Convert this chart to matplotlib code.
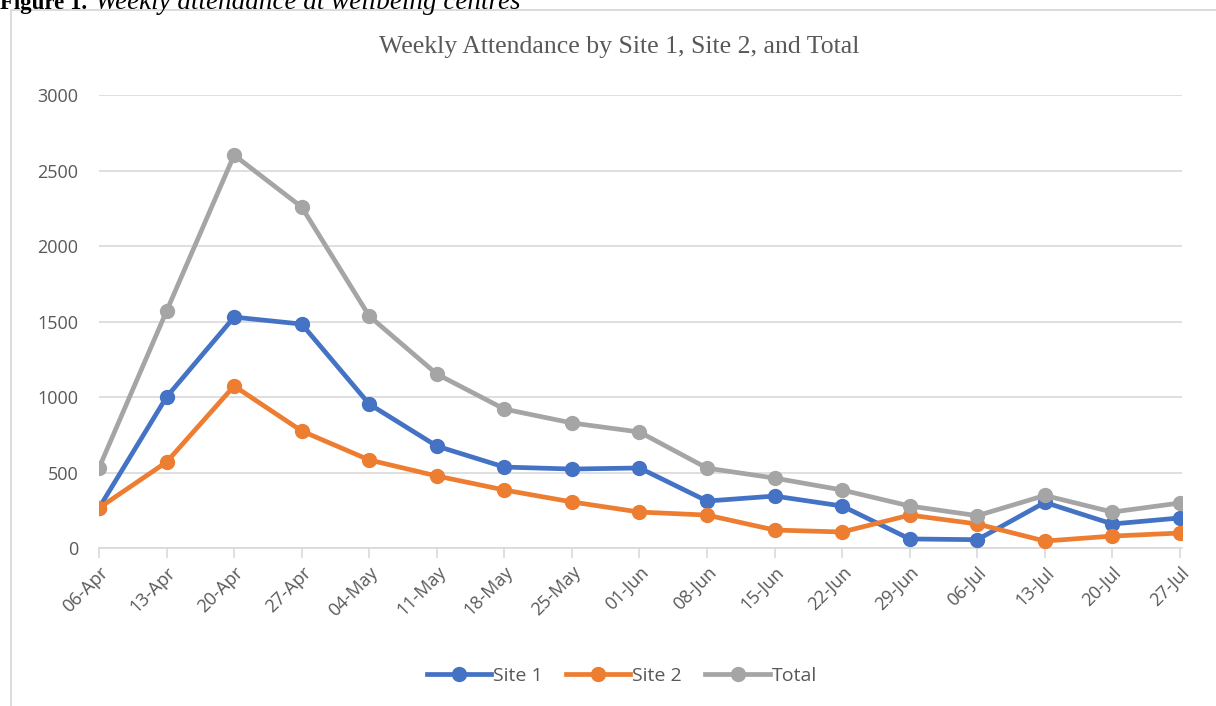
import matplotlib.pyplot as plt
from matplotlib.patches import Rectangle

weeks = ["06-Apr", "13-Apr", "20-Apr", "27-Apr", "04-May", "11-May", "18-May",
         "25-May", "01-Jun", "08-Jun", "15-Jun", "22-Jun", "29-Jun", "06-Jul",
         "13-Jul", "20-Jul", "27-Jul"]
site1 = [265, 1000, 1529, 1483, 953, 675, 536, 523, 530, 311, 344, 278, 60, 55, 302, 159, 199]
site2 = [265, 569, 1073, 775, 583, 477, 384, 305, 238, 218, 119, 106, 218, 159, 46, 79, 99]
total = [530, 1569, 2602, 2258, 1536, 1152, 920, 828, 768, 529, 463, 384, 278, 214, 348, 238, 298]

W, H = 1216, 706
fig = plt.figure(figsize=(W / 100, H / 100), dpi=100)

# chart frame (cut off at the right and bottom)
fig.patches.append(Rectangle((11 / W, -0.1), 1.2, 1 - 10 / H + 0.1,
                             transform=fig.transFigure, fill=False,
                             edgecolor="#D9D9D9", linewidth=1.3))

# caption, partly cut off at the top like the source page
fig.text(0.0, 1 - 9 / H, "Figure 1.", fontfamily="Liberation Serif",
         fontweight="bold", fontsize=16.5, va="baseline", ha="left")
fig.text(95 / W, 1 - 9 / H, "Weekly attendance at wellbeing centres",
         fontfamily="Liberation Serif", fontstyle="italic", fontsize=19.5,
         va="baseline", ha="left")

ax = fig.add_axes([99 / W, 1 - 548 / H, (1182 - 99) / W, (548 - 95) / H])

x = range(len(weeks))
ax.plot(x, site1, color="#4472C4", lw=3.4, marker="o", ms=10, label="Site 1", zorder=3)
ax.plot(x, site2, color="#ED7D31", lw=3.4, marker="o", ms=10, label="Site 2", zorder=3)
ax.plot(x, total, color="#A5A5A5", lw=3.4, marker="o", ms=10, label="Total", zorder=3)

ax.set_xlim(0, len(weeks) - 1 + 0.03)
ax.set_ylim(0, 3000)
ax.set_yticks(range(0, 3001, 500))
ax.yaxis.grid(True, color="#D9D9D9", lw=1.2)
ax.set_axisbelow(True)
for s in ["top", "right", "left"]:
    ax.spines[s].set_visible(False)
ax.spines["bottom"].set_color("#D9D9D9")
ax.spines["bottom"].set_linewidth(1.2)

ax.set_xticks(list(x))
ax.set_xticklabels(weeks, rotation=45, ha="right", rotation_mode="anchor")
ax.tick_params(axis="x", direction="out", length=7, width=1.2, color="#D9D9D9",
               labelsize=13, labelcolor="#595959", pad=4)
ax.tick_params(axis="y", length=0, labelsize=13, labelcolor="#595959", pad=15)
for lab in ax.get_xticklabels() + ax.get_yticklabels():
    lab.set_fontfamily("Open Sans")

fig.text(619 / W, 1 - 47 / H, "Weekly Attendance by Site 1, Site 2, and Total",
         fontfamily="Liberation Serif", fontsize=18.5, color="#595959",
         ha="center", va="center")

leg = fig.legend(loc="center", bbox_to_anchor=(622 / W, 1 - 676 / H), ncol=3,
                 frameon=False, handlelength=3.3, handletextpad=0.1,
                 columnspacing=1.2, prop={"family": "Open Sans", "size": 14})
for t in leg.get_texts():
    t.set_color("#595959")

fig.savefig("out.png", dpi=100)
